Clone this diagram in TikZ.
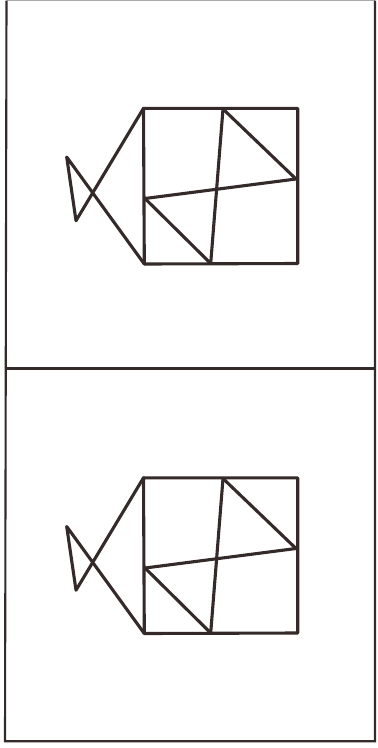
\documentclass[tikz,border=0pt]{standalone}
\definecolor{ink}{RGB}{52,42,42}
\tikzset{
  frameline/.style={draw=ink, line width=2.1pt},
  fishline/.style={draw=ink, line width=3.1pt, line join=round, line cap=round},
}
\newcommand{\drawfish}{%
  \coordinate (A) at (143.5,108.3);
  \coordinate (B) at (297.7,108.3);
  \coordinate (C) at (297.7,263.5);
  \coordinate (D) at (144.3,264);
  \coordinate (T) at (223,109);
  \coordinate (Bm) at (210.7,263.5);
  \coordinate (R) at (296,179);
  \coordinate (L) at (145,198.5);
  \coordinate (P) at (66.7,157);
  \coordinate (Q) at (76,220.7);
  \draw[fishline] (A) -- (B) -- (C) -- (D) -- cycle;
  \draw[fishline] (T) -- (Bm);
  \draw[fishline] (L) -- (R);
  \draw[fishline] (T) -- (R);
  \draw[fishline] (L) -- (Bm);
  \draw[fishline] (A) -- (Q) -- (P) -- (D);
}
\begin{document}
\begin{tikzpicture}[x=1pt,y=-1pt]
  \useasboundingbox (0,0) rectangle (378,748);
  \fill[white] (0,0) rectangle (378,748);
  \coordinate (tl) at (6.5,0.6);
  \coordinate (tr) at (375,0.6);
  \coordinate (ml) at (6.5,368.5);
  \coordinate (mr) at (375,368.5);
  \coordinate (bl) at (5,741.2);
  \coordinate (br) at (375,741.2);
  \draw[draw=ink!40, line width=1pt] (tl) -- (tr);
  \draw[frameline] (tl) -- (bl) -- (br) -- (tr);
  \draw[frameline] (ml) -- (mr);
  \begin{scope}
    \drawfish
  \end{scope}
  \begin{scope}[yshift=-369.5pt]
    \drawfish
  \end{scope}
\end{tikzpicture}
\end{document}
